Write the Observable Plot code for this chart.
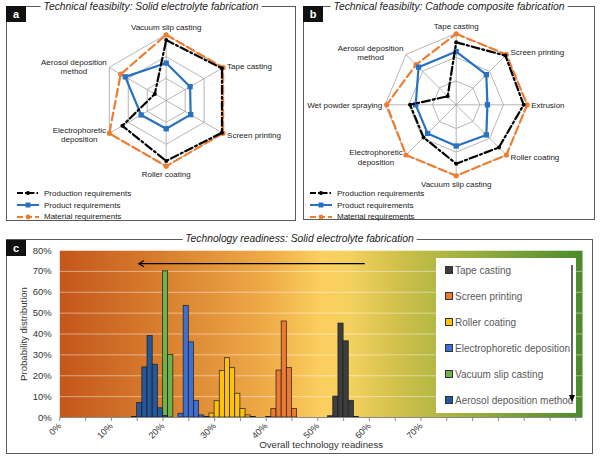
<!DOCTYPE html>
<html><head><meta charset="utf-8">
<script src="https://cdn.jsdelivr.net/npm/d3@7"></script>
<script src="https://cdn.jsdelivr.net/npm/@observablehq/plot@0.6"></script>
<style>
body{margin:0;background:#fff;font-family:"Liberation Sans",Arial,sans-serif;}
#root{position:relative;width:600px;height:460px;overflow:hidden;background:#fff;}
.frame{position:absolute;border:1px solid #5a5a5a;box-sizing:border-box;}
.ptitle{position:absolute;background:#fff;font-style:italic;font-size:10.3px;color:#222;padding:0 3px;transform:translate(-50%,-50%);white-space:nowrap;line-height:12px;}
.tag{position:absolute;background:#111;color:#fff;font-weight:bold;font-size:11px;width:20px;height:16px;text-align:center;line-height:16px;}
.plot{position:absolute;}
.lgrow{position:absolute;display:flex;align-items:center;font-size:8px;color:#222;white-space:nowrap;height:10px;}
.lgrow svg{margin-right:4px;}
#legc{position:absolute;background:#fff;}
.crow{position:absolute;display:flex;align-items:center;font-size:10px;color:#595959;white-space:nowrap;}
.sw{width:6px;height:6px;border:0.8px solid #333;margin-right:2px;}
</style></head>
<body><div id="root"></div>
<script>
// ---------- Panel a: Technical feasibility, solid electrolyte ----------
const axesA = ["Vacuum slip casting","Tape casting","Screen printing","Roller coating","Electrophoretic\ndeposition","Aerosol deposition\nmethod"];
const productionA = [0.92, 0.98, 0.98, 0.92, 0.77, 0.20];
const productA    = [0.57, 0.42, 0.43, 0.43, 0.44, 0.72];
const materialA   = [1.00, 1.00, 1.00, 1.00, 1.00, 0.80];

// ---------- Panel b: Technical feasibility, cathode composite ----------
const axesB = ["Tape casting","Screen printing","Extrusion","Roller coating","Vacuum slip casting","Electrophoretic\ndeposition","Wet powder spraying","Aerosol deposition\nmethod"];
const productionB = [0.88, 0.98, 0.95, 0.85, 0.83, 0.65, 0.65, 0.17];
const productB    = [0.75, 0.60, 0.44, 0.60, 0.58, 0.57, 0.57, 0.75];
const materialB   = [1.00, 1.00, 1.00, 1.00, 1.00, 1.00, 0.98, 0.80];

const ringLevels = [1/3, 2/3, 1];
const requirementNames = ["Production requirements","Product requirements","Material requirements"];

// ---------- Panel c: Technology readiness (bins of 1 %) ----------
const readinessNames = ["Tape casting","Screen printing","Roller coating","Electrophoretic deposition","Vacuum slip casting","Aerosol deposition method"];
const tapeStart = 52,  tapeValues = [0.6, 10, 45, 36.5, 8, 0.3];
const screenStart = 40, screenValues = [0.3, 4, 22.5, 46, 23.7, 4];
const rollerStart = 29, rollerValues = [1.9, 7.8, 22.2, 28.4, 23.6, 11.4, 4, 1, 0.3];
const electroStart = 23, electroValues = [1.8, 53.5, 36, 8, 1, 0.3];
const vacuumStart = 20, vacuumValues = [70, 30];
const aerosolStart = 14, aerosolValues = [0.3, 7, 24, 39, 25.3, 4.4, 0.8];
const xTicks = d3.range(0, 101, 5);
const xTickLabels = [0, 10, 20, 30, 40, 50, 60, 70];
const yTicks = d3.range(0, 81, 10);
const readinessArrow = [{x1: 59, x2: 15.3, y: 73.7}];

const root = document.getElementById("root");
function add(html){ root.insertAdjacentHTML("beforeend", html); }

// colours
const cBlack = "#000", cBlue = "#2870c0", cOrange = "#ed7d31";
const barColors = ["#3d3d3d","#ec7b30","#fdc10e","#3f6fd1","#6fb24b","#24589a"];

// frames
add(`<div class="frame" style="left:6px;top:6px;width:290px;height:215px"></div>`);
add(`<div class="frame" style="left:303px;top:6px;width:292px;height:214px"></div>`);
add(`<div class="frame" style="left:6px;top:239px;width:587px;height:215px"></div>`);

function radar({axes, production, product, material, width, height, cx, cy, R}) {
  const n = axes.length;
  const ang = i => 2 * Math.PI * i / n;
  const pt = (i, v) => ({x: v * Math.sin(ang(i)), y: v * Math.cos(ang(i))});
  const rings = ringLevels.flatMap(r => axes.map((a, i) => ({ring: r, ...pt(i, r)})));
  const spokes = axes.map((a, i) => ({x1: 0, y1: 0, x2: pt(i, 1).x, y2: pt(i, 1).y}));
  const ser = (vals) => vals.map((v, i) => pt(i, v));
  const labelMarks = axes.map((name, i) => {
    const s = Math.sin(ang(i)), c = Math.cos(ang(i));
    const lines = name.split("\n");
    const maxChars = d3.max(lines, l => l.length);
    let textAnchor, dx = 0, dy = 0;
    if (Math.abs(s) < 0.01) { textAnchor = "middle"; dy = c > 0 ? -8 : 8; }
    else if (s > 0) { textAnchor = "start"; dx = 4; dy = -c * 3; }
    else if (lines.length > 1) { textAnchor = "middle"; dx = -(maxChars * 1.8 + 3); dy = -c * 3; }
    else { textAnchor = "end"; dx = -3; }
    return Plot.text([{name, ...pt(i, 1)}], {x: "x", y: "y", text: "name", textAnchor, dx, dy, lineAnchor: "middle", fontSize: 8, lineHeight: 1.15, fill: "#222"});
  });
  return Plot.plot({
    width, height,
    marginLeft: cx - R, marginRight: width - cx - R, marginTop: cy - R, marginBottom: height - cy - R,
    x: {domain: [-1, 1], axis: null}, y: {domain: [-1, 1], axis: null},
    style: {background: "transparent", fontFamily: "Liberation Sans, Arial, sans-serif"},
    marks: [
      Plot.line(rings, {x: "x", y: "y", z: "ring", curve: "linear-closed", stroke: "#a3a3a3", strokeWidth: 0.8}),
      Plot.link(spokes, {x1: "x1", y1: "y1", x2: "x2", y2: "y2", stroke: "#a3a3a3", strokeWidth: 0.8}),
      Plot.line(ser(material), {x: "x", y: "y", curve: "linear-closed", stroke: cOrange, strokeWidth: 2.2, strokeDasharray: "8,4"}),
      Plot.dot(ser(material), {x: "x", y: "y", r: 2.6, fill: cOrange}),
      Plot.line(ser(product), {x: "x", y: "y", curve: "linear-closed", stroke: cBlue, strokeWidth: 2.2}),
      Plot.dot(ser(product), {x: "x", y: "y", r: 3, symbol: "square", fill: cBlue}),
      Plot.line(ser(production), {x: "x", y: "y", curve: "linear-closed", stroke: cBlack, strokeWidth: 2.2, strokeDasharray: "8,3,2,3"}),
      Plot.dot(ser(production), {x: "x", y: "y", r: 2, fill: cBlack}),
      ...labelMarks
    ]
  });
}

const radarA = radar({axes: axesA, production: productionA, product: productA, material: materialA, width: 290, height: 172, cx: 159.7, cy: 86, R: 65.7});
const radarB = radar({axes: axesB, production: productionB, product: productB, material: materialB, width: 292, height: 176, cx: 152.7, cy: 90.3, R: 71});

function place(node, left, top){ const d = document.createElement("div"); d.className = "plot"; d.style.left = left + "px"; d.style.top = top + "px"; d.appendChild(node); root.appendChild(d); }
place(radarA, 6, 14);
place(radarB, 303, 14);

// radar legends
const legendSamples = [
  `<svg width="24" height="8"><line x1="1" y1="4" x2="23" y2="4" stroke="${cBlack}" stroke-width="2" stroke-dasharray="6,2,1.5,2"/><circle cx="12" cy="4" r="2" fill="${cBlack}"/></svg>`,
  `<svg width="24" height="8"><line x1="1" y1="4" x2="23" y2="4" stroke="${cBlue}" stroke-width="2"/><rect x="9.5" y="1.5" width="5" height="5" fill="${cBlue}"/></svg>`,
  `<svg width="24" height="8"><line x1="1" y1="4" x2="23" y2="4" stroke="${cOrange}" stroke-width="2" stroke-dasharray="6,3"/><circle cx="12" cy="4" r="2.4" fill="${cOrange}"/></svg>`
];
requirementNames.forEach((name, i) => {
  const y = 193.3 + i * 11.7 - 5;
  add(`<div class="lgrow" style="left:16px;top:${y}px">${legendSamples[i]}<span>${name}</span></div>`);
  add(`<div class="lgrow" style="left:309px;top:${y}px">${legendSamples[i]}<span>${name}</span></div>`);
});

// ---------- Panel c plot ----------
const seriesDefs = [
  [readinessNames[0], tapeStart, tapeValues],
  [readinessNames[1], screenStart, screenValues],
  [readinessNames[2], rollerStart, rollerValues],
  [readinessNames[3], electroStart, electroValues],
  [readinessNames[4], vacuumStart, vacuumValues],
  [readinessNames[5], aerosolStart, aerosolValues]
];
const bars = seriesDefs.flatMap(([name, start, vals]) => vals.map((v, i) => ({series: name, x1: start + i, x2: start + i + 1, y: v})));

const chartC = Plot.plot({
  width: 600, height: 215,
  marginLeft: 59.3, marginRight: 18, marginTop: 10, marginBottom: 38,
  x: {domain: [0, 101.3]},
  y: {domain: [0, 80]},
  color: {domain: readinessNames, range: barColors},
  style: {background: "transparent", fontFamily: "Liberation Sans, Arial, sans-serif", color: "#333"},
  marks: [
    Plot.frame({fill: "url(#readinessBg)", stroke: null}),
    Plot.ruleY(yTicks.filter(d => d > 0), {stroke: "#fff", strokeOpacity: 0.45, strokeWidth: 1}),
    Plot.rect(bars, {x1: "x1", x2: "x2", y1: 0, y2: "y", fill: "series", stroke: "#1c1c1c", strokeWidth: 0.7}),
    Plot.ruleY([0], {stroke: "#8a8a8a", strokeWidth: 1}),
    Plot.axisX({ticks: xTicks, tickSize: 4, stroke: "#8a8a8a", tickRotate: -45, fontSize: 9, tickPadding: 3,
      tickFormat: d => xTickLabels.includes(d) ? d + "%" : "", label: null}),
    Plot.axisY({ticks: yTicks, tickSize: 0, tickPadding: 8, fontSize: 9.5, tickFormat: d => d + "%", label: null}),
    Plot.text(["Probability distribution"], {text: d => d, frameAnchor: "left", textAnchor: "middle", rotate: -90, dx: -36, fontSize: 9.6, fill: "#333"}),
    Plot.text(["Overall technology readiness"], {text: d => d, frameAnchor: "bottom", textAnchor: "middle", dy: 30, fontSize: 9.6, fill: "#333"}),
    Plot.arrow(readinessArrow, {x1: "x1", x2: "x2", y1: "y", y2: "y", stroke: "#000", strokeWidth: 1.2, headLength: 7})
  ]
});
// gradient background definition
const stops = [[0,"#c4561b"],[0.2,"#d8802f"],[0.4,"#efac48"],[0.5,"#fbcf5e"],[0.55,"#f6d160"],[0.65,"#cfc04a"],[0.8,"#96ad3e"],[1,"#4a8a2c"]];
const defs = d3.select(chartC).insert("defs", ":first-child");
const grad = defs.append("linearGradient").attr("id", "readinessBg").attr("x1", 0).attr("x2", 1).attr("y1", 0).attr("y2", 0);
stops.forEach(([o, c]) => grad.append("stop").attr("offset", o).attr("stop-color", c));
place(chartC, 0, 240);

// panel c legend (white box)
add(`<div id="legc" style="left:436px;top:258px;width:140px;height:155px"></div>`);
readinessNames.forEach((name, i) => {
  const y = 270.7 + i * 26 - 6;
  add(`<div class="crow" style="left:445px;top:${y}px"><div class="sw" style="background:${barColors[i]}"></div><span>${name}</span></div>`);
});
add(`<svg style="position:absolute;left:566px;top:264px" width="12" height="140"><line x1="6" y1="1" x2="6" y2="134" stroke="#000" stroke-width="1.2"/><path d="M3,131 L6,138 L9,131 Z" fill="#000"/></svg>`);

// titles and tags
add(`<div class="ptitle" style="left:151px;top:7px">Technical feasibilty: Solid electrolyte fabrication</div>`);
add(`<div class="ptitle" style="left:449px;top:7px">Technical feasibilty: Cathode composite fabrication</div>`);
add(`<div class="ptitle" style="left:299.5px;top:238.5px">Technology readiness: Solid electrolyte fabrication</div>`);
add(`<div class="tag" style="left:6px;top:6px">a</div>`);
add(`<div class="tag" style="left:303px;top:6px">b</div>`);
add(`<div class="tag" style="left:6px;top:240px">c</div>`);
</script>
</body></html>
